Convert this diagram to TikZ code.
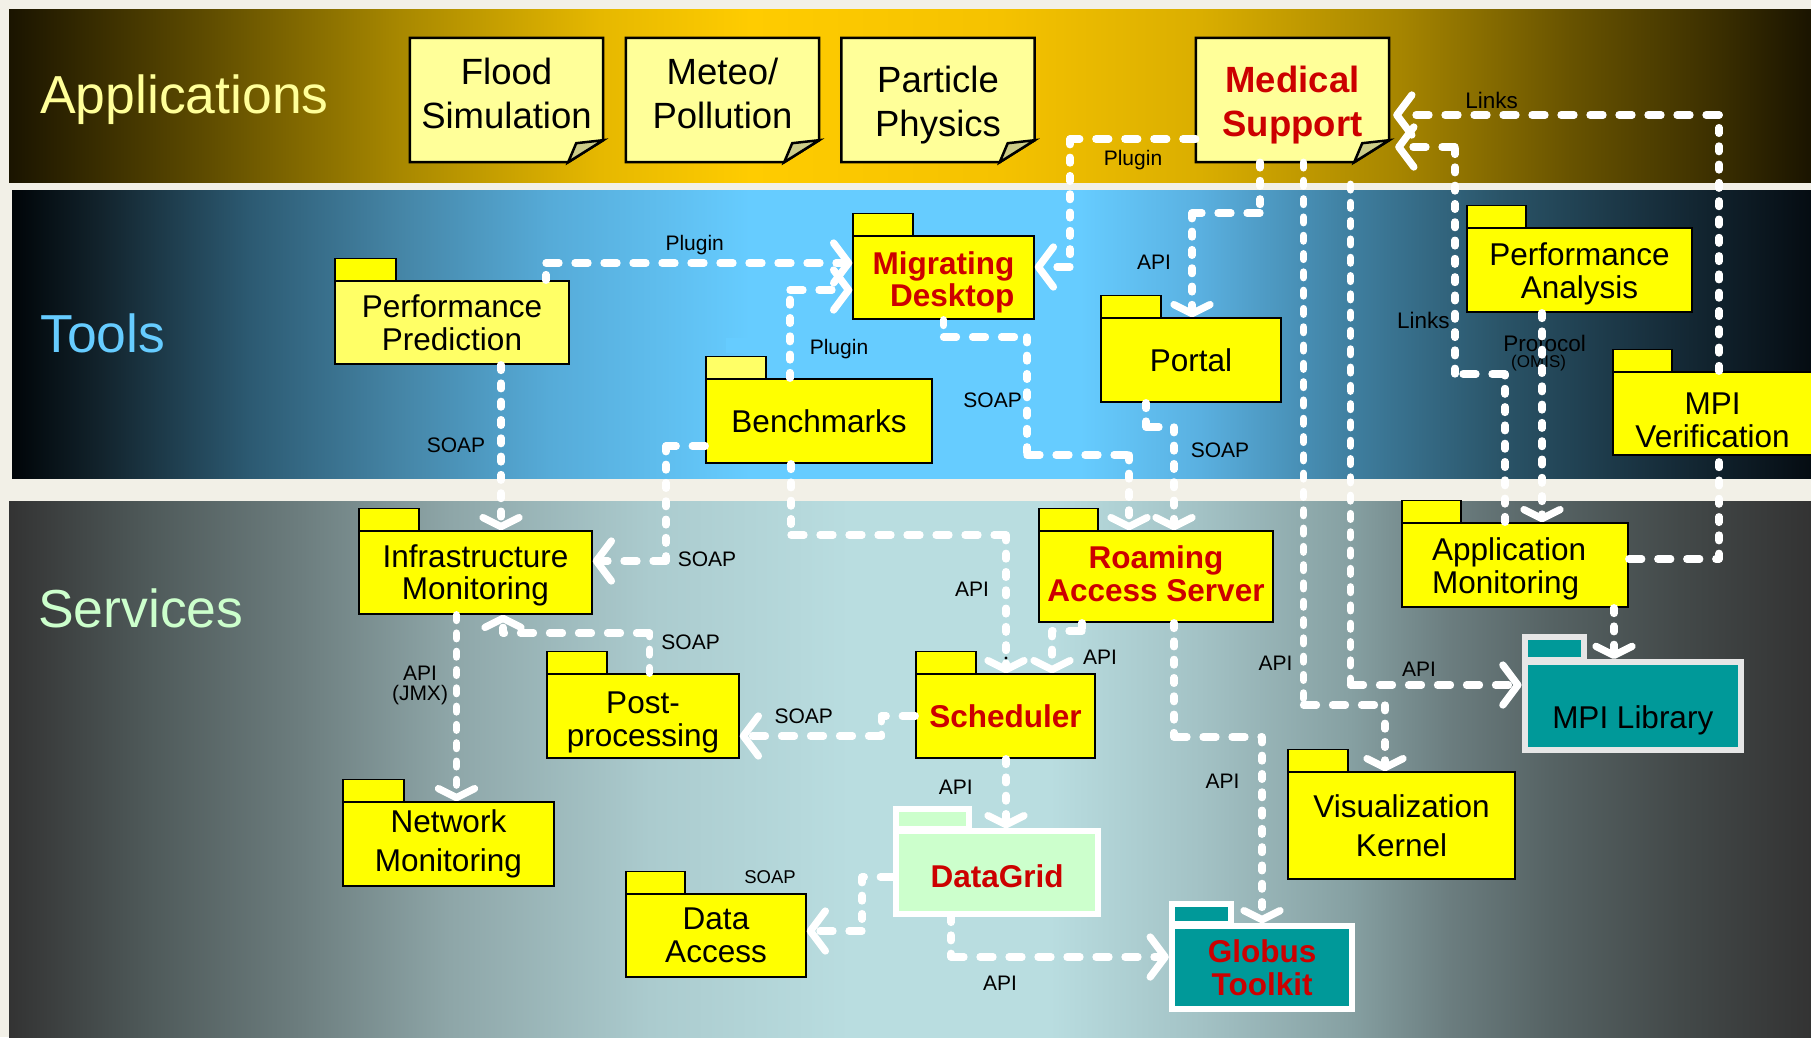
\documentclass[tikz,border=0pt]{standalone}
\usepackage{fontspec}
\setmainfont{Liberation Sans}
\usetikzlibrary{arrows.meta,calc}

% ---------- colours ----------
\definecolor{pagebg}{HTML}{F2F0E7}
\definecolor{pkgyellow}{HTML}{FFFF00}
\definecolor{paleyellow}{HTML}{FFFF66}
\definecolor{notefill}{HTML}{FFFF99}
\definecolor{flapfill}{HTML}{CCCC88}
\definecolor{tealbox}{HTML}{009999}
\definecolor{mintbox}{HTML}{CCFFCC}
\definecolor{libborder}{HTML}{E6E6E6}
\definecolor{redtext}{HTML}{CC0000}
\definecolor{apptitle}{HTML}{FFFF99}
\definecolor{tooltitle}{HTML}{66CCFF}
\definecolor{servtitle}{HTML}{CCFFCC}
\definecolor{patchblue}{HTML}{66CCFF}

% application band
\definecolor{ap0}{HTML}{1A1400}
\definecolor{ap1}{HTML}{5C4A00}
\definecolor{ap2}{HTML}{A88800}
\definecolor{ap3}{HTML}{E6B800}
\definecolor{ap4}{HTML}{FFCC00}
\definecolor{ap5}{HTML}{F5C200}
\definecolor{ap6}{HTML}{DAAE00}
\definecolor{ap7}{HTML}{A68500}
\definecolor{ap8}{HTML}{685300}
\definecolor{ap9}{HTML}{3A2E00}
% tools band
\definecolor{tl0}{HTML}{000508}
\definecolor{tl1}{HTML}{12232C}
\definecolor{tl2}{HTML}{2C5A72}
\definecolor{tl3}{HTML}{4585A6}
\definecolor{tl4}{HTML}{56ABD8}
\definecolor{tl5}{HTML}{66CCFF}
\definecolor{tl7}{HTML}{5AB0E0}
\definecolor{tl8}{HTML}{3F7FA0}
\definecolor{tl9}{HTML}{2A5468}
\definecolor{tl10}{HTML}{18303E}
\definecolor{tl11}{HTML}{050C12}
% services band
\definecolor{sv0}{HTML}{333333}
\definecolor{sv1}{HTML}{4F5A5A}
\definecolor{sv2}{HTML}{6C7D7E}
\definecolor{sv3}{HTML}{8EA6A8}
\definecolor{sv4}{HTML}{ABCBCE}
\definecolor{sv5}{HTML}{B9DDE0}
\definecolor{sv7}{HTML}{A3C2C5}
\definecolor{sv8}{HTML}{86A0A2}
\definecolor{sv9}{HTML}{6B7D7F}
\definecolor{sv10}{HTML}{566364}
\definecolor{sv11}{HTML}{434949}

\pgfdeclarehorizontalshading{appband}{100bp}{color(0bp)=(ap0); color(25bp)=(ap0);
  color(30.3bp)=(ap1); color(35.85bp)=(ap2); color(41.4bp)=(ap3); color(45.56bp)=(ap4);
  color(52.5bp)=(ap5); color(58.05bp)=(ap6); color(63.6bp)=(ap7); color(68.31bp)=(ap8);
  color(72.47bp)=(ap9); color(75bp)=(ap0); color(100bp)=(ap0)}
\pgfdeclarehorizontalshading{toolband}{100bp}{color(0bp)=(tl0); color(25bp)=(tl0);
  color(27.45bp)=(tl1); color(31.61bp)=(tl2); color(35.78bp)=(tl3); color(39.95bp)=(tl4);
  color(45.51bp)=(tl5); color(54.68bp)=(tl5); color(58.02bp)=(tl7); color(62.19bp)=(tl8);
  color(66.36bp)=(tl9); color(70.53bp)=(tl10); color(75bp)=(tl11); color(100bp)=(tl11)}
\pgfdeclarehorizontalshading{servband}{100bp}{color(0bp)=(sv0); color(25bp)=(sv0);
  color(28.91bp)=(sv1); color(33.07bp)=(sv2); color(37.24bp)=(sv3); color(42.79bp)=(sv4);
  color(48.34bp)=(sv5); color(53.88bp)=(sv5); color(58.05bp)=(sv7); color(62.21bp)=(sv8);
  color(64.98bp)=(sv9); color(67.76bp)=(sv10); color(71.37bp)=(sv11); color(75bp)=(sv0);
  color(100bp)=(sv0)}

\pgfdeclarelayer{back}
\pgfdeclarelayer{notes}
\pgfsetlayers{back,notes,main}

% ---------- fonts ----------
\newcommand\appfont{\fontsize{36.5}{44}\selectfont}
\newcommand\pkgfont{\fontsize{31.5}{32.5}\selectfont}
\newcommand\lblfont{\fontsize{21}{20}\selectfont}
\newcommand\bandfont{\fontsize{53.5}{54}\selectfont}

% ---------- helpers ----------
% folder tab on top of a package body
\newcommand\pkgtab[3][pkgyellow]{%
  \draw[tabline,fill=#1] ($(#2.north west)+(0.75,0.75)$) rectangle ++(#3,-22.5);}
% folder tab with a thick light border: node, width, height, fill, border
\newcommand\thicktab[5]{%
  \draw[line width=6,draw=#5,fill=#4] ($(#1.north west)+(3,1)$) rectangle ++(#2,-#3);}
% sticky note with a folded corner, drawn behind its node
\newcommand\notebox[1]{%
  \begin{pgfonlayer}{notes}
    \draw[noteline,fill=notefill] (#1.north west) -- (#1.north east)
      -- ($(#1.south east)+(0,-22)$) -- ($(#1.south east)+(-35,0)$)
      -- (#1.south west) -- cycle;
    \draw[noteline,fill=flapfill] ($(#1.south east)+(0,-22)$)
      -- ($(#1.south east)+(-35,0)$) -- ($(#1.south east)+(-27,-19)$) -- cycle;
  \end{pgfonlayer}}

\begin{document}
\begin{tikzpicture}[x=1pt,y=-1pt,
  tabline/.style={draw=black,line width=1.5},
  noteline/.style={draw=black,line width=2.5,line join=miter},
  note/.style={minimum width=193,minimum height=124,inner sep=0},
  apptext/.style={font=\appfont,align=center,inner sep=0},
  pkg/.style={draw=black,line width=1.5,fill=pkgyellow,inner sep=0,
    align=center,font=\pkgfont},
  redpkg/.style={pkg,font=\pkgfont\bfseries,text=redtext},
  ptxt/.style={inner sep=0,align=center,font=\pkgfont,text=black},
  rtxt/.style={ptxt,font=\pkgfont\bfseries,text=redtext},
  lbl/.style={font=\lblfont,inner sep=0,align=center},
  hw/.style={draw=white,line width=7.3,line cap=round,dash pattern=on 13 off 16},
  vw/.style={draw=white,line width=7.3,line cap=round,dash pattern=on 5.7 off 12.6},
  harr/.style={-{Straight Barb[length=15pt,width=40pt,round]}},
  varr/.style={-{Straight Barb[length=9pt,width=36pt,round]}}]

\useasboundingbox (0,0) rectangle (1811,1037);

% ---------- layer bands ----------
\begin{pgfonlayer}{back}
  \fill[pagebg] (0,0) rectangle (1811,1037);
  \shade[shading=appband] (9,9) rectangle (1811,182);
  \shade[shading=toolband] (12,190) rectangle (1811,478);
  \shade[shading=servband] (9,501) rectangle (1811,1037);
  \fill[patchblue] (726,338) rectangle (793,353);
\end{pgfonlayer}

\node[anchor=base west,font=\bandfont,text=apptitle,inner sep=0] (tapps) at (40,113) {Applications};
\node[anchor=base west,font=\bandfont,text=tooltitle,inner sep=0] (ttools) at (40,352) {Tools};
\node[anchor=base west,font=\bandfont,text=servtitle,inner sep=0] (tserv) at (38,627) {Services};

% ---------- applications ----------
\node[note] (flood) at (506.5,100) {};
\node[note] (meteo) at (722.5,100) {};
\node[note] (particle) at (938,100) {};
\node[note] (med) at (1292.5,100) {};
\notebox{flood}\notebox{meteo}\notebox{particle}\notebox{med}
\node[apptext] (floodtxt) at ([yshift=7pt]flood.center) {Flood\\Simulation};
\node[apptext] (meteotxt) at ([yshift=7pt]meteo.center) {Meteo/\\Pollution};
\node[apptext] (particletxt) at ([yshift=-4.6pt]particle.center) {Particle\\Physics};
\node[apptext,font=\appfont\bfseries,text=redtext] (medtxt) at ([yshift=-4.6pt]med.center) {Medical\\Support};

% ---------- tools ----------
\node[pkg,fill=paleyellow,minimum width=234,minimum height=83] (pp) at (452,322.5) {Performance\\Prediction};
\pkgtab{pp}{61}
\node[redpkg,minimum width=181,minimum height=83,
  label={[rtxt,align=right,yshift=-4.6pt]center:Migrating\\Desktop}] (md) at (943.5,277.5) {};
\pkgtab{md}{60}
\node[pkg,minimum width=226,minimum height=84] (bench) at (819,421) {Benchmarks};
\pkgtab[paleyellow]{bench}{60}
\node[pkg,minimum width=180,minimum height=84] (portal) at (1191,360) {Portal};
\pkgtab{portal}{60}
\node[pkg,minimum width=225,minimum height=84,
  label={[ptxt,yshift=-4pt]center:Performance\\Analysis}] (pa) at (1579.5,270) {};
\pkgtab{pa}{59}
\node[pkg,minimum width=199,minimum height=83,
  label={[ptxt,yshift=-7pt]center:MPI\\Verification}] (mpiv) at (1712.5,413.5) {};
\pkgtab{mpiv}{59}

% ---------- services ----------
\node[pkg,minimum width=233,minimum height=83,
  label={[ptxt,yshift=-3pt]center:Infrastructure\\Monitoring}] (im) at (475.5,572.5) {};
\pkgtab{im}{60}
\node[pkg,minimum width=192,minimum height=84,
  label={[ptxt,yshift=-6.4pt]center:Post-\\processing}] (post) at (643,716) {};
\pkgtab{post}{60}
\node[redpkg,minimum width=179,minimum height=84] (sched) at (1005.5,716) {Scheduler};
\pkgtab{sched}{60}
\node[redpkg,minimum width=234,minimum height=91,
  label={[rtxt,yshift=3pt]center:Roaming\\Access Server}] (ras) at (1156,576.5) {};
\pkgtab{ras}{59}
\node[pkg,minimum width=226,minimum height=84,
  label={[ptxt,align=left,text width=166,yshift=-4pt]center:Application\\Monitoring}] (am) at (1515,565) {};
\pkgtab{am}{59}
\node[pkg,minimum width=227,minimum height=107,font=\fontsize{31.5}{38.5}\selectfont] (vk) at (1401.5,825.5) {Visualization\\Kernel};
\pkgtab{vk}{60}
\node[pkg,minimum width=211,minimum height=84,font=\fontsize{31.5}{39}\selectfont] (nm) at (448.5,844) {Network\\Monitoring};
\pkgtab{nm}{61}
\node[pkg,minimum width=180,minimum height=83] (da) at (716,935.5) {Data\\Access};
\pkgtab{da}{59}
\node[pkg,draw=libborder,line width=6,fill=tealbox,minimum width=216.5,minimum height=88.3,
  label={[ptxt,yshift=-14pt]center:MPI Library}] (mpil) at (1632.75,706.15) {};
\thicktab{mpil}{59.7}{22.7}{tealbox}{libborder}
\node[redpkg,draw=white,line width=6,fill=mintbox,minimum width=201.7,minimum height=82.4,
  label={[rtxt,yshift=-3.5pt]center:DataGrid}] (dg) at (997.15,872.5) {};
\thicktab{dg}{72.7}{20.3}{mintbox}{white}
\node[redpkg,draw=white,line width=6,fill=tealbox,minimum width=180.6,minimum height=83] (gt) at (1262.1,967.8) {Globus\\Toolkit};
\thicktab{gt}{59.5}{20.3}{tealbox}{white}

% ---------- connector labels ----------
\node[lbl] (lplug1) at (1133,160) {Plugin};
\node[lbl] (lplug2) at (694.7,245) {Plugin};
\node[lbl] (lplug3) at (839,349) {Plugin};
\node[lbl] (lsoap1) at (456,445) {SOAP};
\node[lbl] (lsoap2) at (707,559) {SOAP};
\node[lbl] (lapi1) at (972,589) {API};
\node[lbl] (lsoap3) at (992.6,400) {SOAP};
\node[lbl] (lsoap4) at (1220,450) {SOAP};
\node[lbl] (lapi2) at (1154,262) {API};
\node[lbl] (lapi3) at (1275.5,663) {API};
\node[lbl] (lapi4) at (1419,669) {API};
\node[lbl] (lapi5) at (1222.6,781) {API};
\node[lbl] (lapi6) at (1100,657.5) {API};
\node[lbl] (lsoap5) at (803.8,716.5) {SOAP};
\node[lbl] (lsoap6) at (690.6,642.5) {SOAP};
\node[lbl] (ljmx) at (420,685) {API\\(JMX)};
\node[lbl,font=\fontsize{22.5}{22}\selectfont] (llinks1) at (1423.4,320) {Links};
\node[lbl,font=\fontsize{22.5}{22}\selectfont] (llinks2) at (1491.5,100) {Links};
\node[lbl,font=\fontsize{22.5}{22}\selectfont] (lproto) at (1544.6,343.3) {Protocol};
\node[lbl,font=\fontsize{17}{17}\selectfont] (lomis) at (1538.6,363.3) {(OMIS)};
\node[lbl] (lapi7) at (955.7,787) {API};
\node[lbl,font=\fontsize{18.5}{18}\selectfont] (lsoap7) at (770,876.7) {SOAP};
\node[lbl] (lapi8) at (1000,983.3) {API};

% ---------- connectors ----------
% Medical Support -> Migrating Desktop
\draw[hw] (med.west |- 0,139) -- (1070,139);
\draw[vw] (1070,139) -- (1070,267);
\draw[hw,harr] (1070,267) -- (md.east |- 0,267);
% Performance Prediction -> Migrating Desktop
\draw[vw] (pp.north -| 546,0) -- (546,263);
\draw[hw,harr] (546,263) -- (md.west |- 0,263);
% Benchmarks -> Migrating Desktop
\draw[vw] (bench.north -| 790,0) -- (790,290);
\draw[hw,harr] (790,290) -- (md.west |- 0,290);
% Performance Prediction -> Infrastructure Monitoring
\draw[vw,varr] (pp.south -| 501,0) -- (im.north -| 501,0);
% Benchmarks -> Infrastructure Monitoring
\draw[hw] (bench.west |- 0,446) -- (666,446);
\draw[vw] (666,446) -- (666,561);
\draw[hw,harr] (666,561) -- (im.east |- 0,561);
% Benchmarks -> Scheduler
\draw[vw] (bench.south -| 791,0) -- (791,535);
\draw[hw] (791,535) -- (1006,535);
\draw[vw,varr] (1006,535) -- (sched.north -| 1006,0);
\fill (1006,658) circle (1.6);
% Migrating Desktop -> Roaming Access Server
\draw[vw] (md.south -| 943.5,0) -- (943.5,337);
\draw[hw] (943.5,337) -- (1027,337);
\draw[vw] (1027,337) -- (1027,455);
\draw[hw] (1027,455) -- (1129,455);
\draw[vw,varr] (1129,455) -- (ras.north -| 1129,0);
% Portal -> Roaming Access Server
\draw[vw] (portal.south -| 1146,0) -- (1146,427);
\draw[hw] (1146,427) -- (1174,427);
\draw[vw,varr] (1174,427) -- (ras.north -| 1174,0);
% Medical Support -> Portal
\draw[vw] (med.south -| 1260,0) -- (1260,213);
\draw[hw] (1260,213) -- (1192,213);
\draw[vw,varr] (1192,213) -- (portal.north -| 1192,0);
% Medical Support -> Visualization Kernel
\draw[vw] (med.south -| 1303.5,0) -- (1303.5,705);
\draw[hw] (1303.5,705) -- (1385,705);
\draw[vw,varr] (1385,705) -- (vk.north -| 1385,0);
% Medical Support -> MPI Library
\draw[vw] ($(med.south -| 1350.5,0)+(0,22)$) -- (1350.5,685);
\draw[hw,harr] (1350.5,685) -- (mpil.west |- 0,685);
% Roaming Access Server -> Globus Toolkit
\draw[vw] (ras.south -| 1174,0) -- (1174,737);
\draw[hw] (1174,737) -- (1262,737);
\draw[vw,varr] (1262,737) -- (gt.north -| 1262,0);
% Roaming Access Server -> Scheduler
\draw[vw] (ras.south -| 1082,0) -- (1082,631);
\draw[hw] (1082,631) -- (1052,631);
\draw[vw,varr] (1052,631) -- (sched.north -| 1052,0);
% Scheduler -> Post-processing
\draw[hw] (sched.west |- 0,716) -- (881.5,716);
\draw[vw] (881.5,716) -- (881.5,736);
\draw[hw,harr] (881.5,736) -- (post.east |- 0,736);
% Post-processing -> Infrastructure Monitoring
\draw[vw] (post.north -| 649.5,0) -- (649.5,633);
\draw[hw] (649.5,633) -- (503,633);
\draw[vw,varr] (503,633) -- (im.south -| 503,0);
% Infrastructure Monitoring -> Network Monitoring
\draw[vw,varr] (im.south -| 456.5,0) -- (nm.north -| 456.5,0);
% MPI Verification -> Medical Support
\draw[vw] (mpiv.north -| 1719,0) -- (1719,115);
\draw[hw,harr] (1719,115) -- ($(med.east |- 0,115)+(4,0)$);
% Application Monitoring -> Medical Support
\draw[vw] (am.north -| 1505,0) -- (1505,374);
\draw[hw] (1505,374) -- (1455,374);
\draw[vw] (1455,374) -- (1455,147);
\draw[hw,harr] (1455,147) -- ($(med.east |- 0,147)+(6,0)$);
% Performance Analysis -> Application Monitoring
\draw[vw,varr] (pa.south -| 1542,0) -- (am.north -| 1542,0);
% Application Monitoring -- MPI Verification
\draw[hw] (am.east |- 0,559) -- (1719,559);
\draw[vw] (1719,559) -- (mpiv.south -| 1719,0);
% Application Monitoring -> MPI Library
\draw[vw,varr] (am.south -| 1614,0) -- (mpil.north -| 1614,0);
% Scheduler -> DataGrid
\draw[vw,varr] (sched.south -| 1006,0) -- (dg.north -| 1006,0);
% DataGrid -> Data Access
\draw[hw] (dg.west |- 0,877) -- (862,877);
\draw[vw] (862,877) -- (862,931);
\draw[hw,harr] (862,931) -- (da.east |- 0,931);
% DataGrid -> Globus Toolkit
\draw[vw] (dg.south -| 951,0) -- (951,957);
\draw[hw,harr] (951,957) -- (gt.west |- 0,957);

\end{tikzpicture}
\end{document}
